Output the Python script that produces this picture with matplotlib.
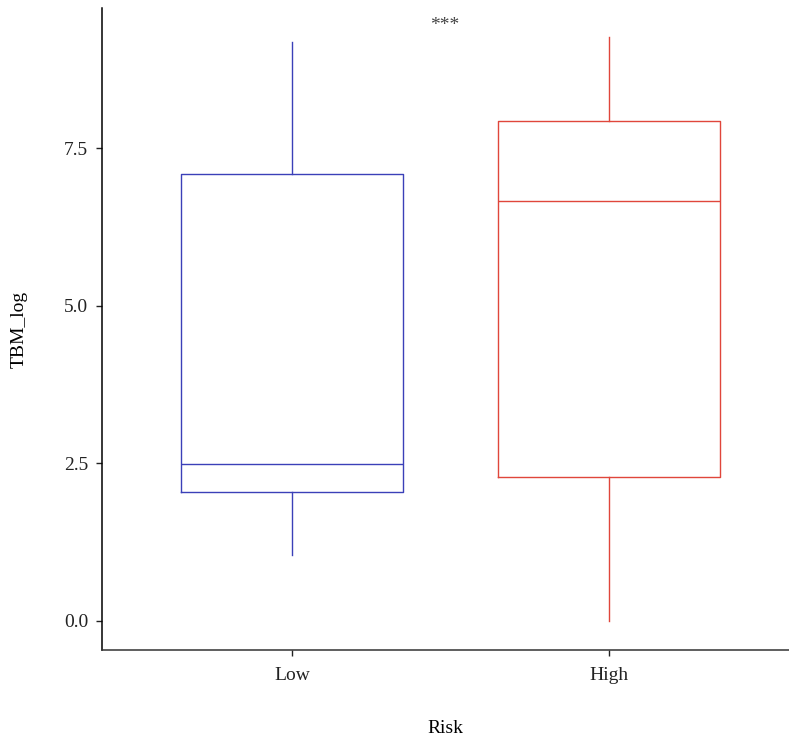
import matplotlib
matplotlib.use("Agg")
import matplotlib.pyplot as plt

plt.rcParams['font.family'] = ['Liberation Serif', 'DejaVu Serif']

# box statistics
groups = ["Low", "High"]
colors = ["#3b40b8", "#e0463b"]
whislo = [1.05, 0.0]
q1 = [2.05, 2.28]
med = [2.49, 6.66]
q3 = [7.09, 7.93]
whishi = [9.18, 9.26]
y_ticks = [0.0, 2.5, 5.0, 7.5]
signif = "***"

stats = []
for i, g in enumerate(groups):
    stats.append(dict(label=g, whislo=whislo[i], q1=q1[i], med=med[i],
                      q3=q3[i], whishi=whishi[i], fliers=[]))

fig = plt.figure(figsize=(7.89, 7.40), dpi=100)
ax = fig.add_axes([102 / 789, 90 / 740, 1 - 102 / 789, (650 - 8) / 740])

for i, s in enumerate(stats):
    c = colors[i]
    ax.bxp([s], positions=[i + 1], widths=0.7, showcaps=False,
           boxprops=dict(color=c, linewidth=1.0),
           whiskerprops=dict(color=c, linewidth=1.0),
           medianprops=dict(color=c, linewidth=1.0))

ax.set_xlim(0.4, 2.567)
ax.set_ylim(-0.46, 9.72)
ax.set_yticks(y_ticks)
ax.set_yticklabels([f"{v:.1f}" for v in y_ticks])
ax.set_xticks([1, 2])
ax.set_xticklabels(groups)
ax.tick_params(labelsize=14, length=4, width=1.0, colors="#222222")
ax.tick_params(axis="x", pad=8)
ax.tick_params(axis="y", pad=6)
for side in ["top", "right"]:
    ax.spines[side].set_visible(False)
for side in ["left", "bottom"]:
    ax.spines[side].set_linewidth(1.1)
ax.spines["left"].set_color("black")
ax.spines["bottom"].set_color("#333333")

ax.set_xlabel("Risk", fontsize=14, labelpad=26)
ax.set_ylabel("TBM_log", fontsize=14, labelpad=26)

ax.text(1.48, 9.45, signif, ha="center", va="center", fontsize=14, color="#444444")

fig.savefig("out.png", dpi=100)
